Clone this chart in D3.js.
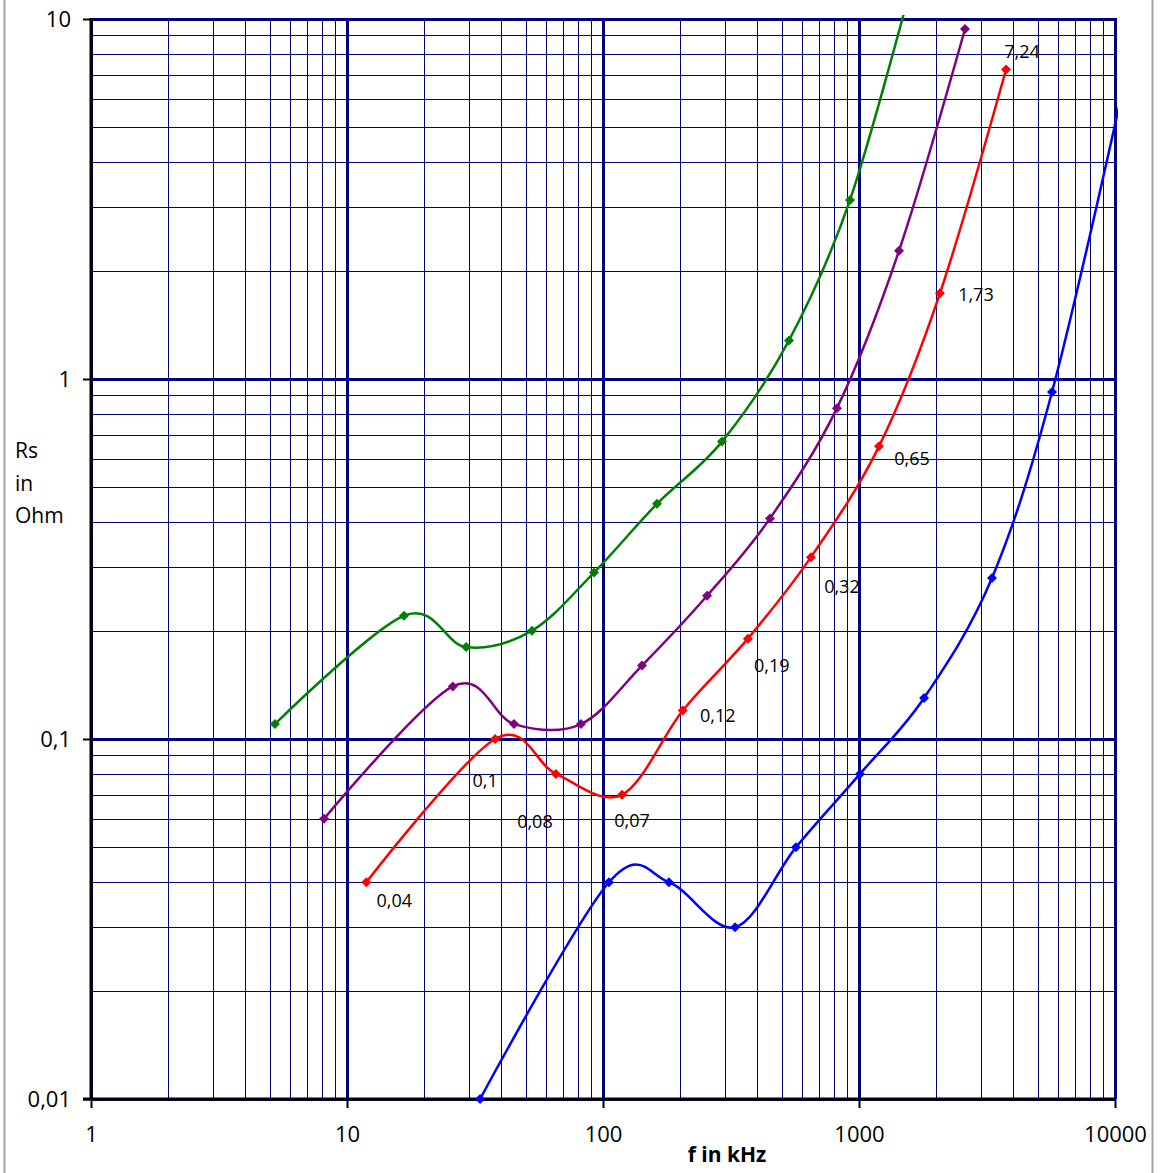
<!DOCTYPE html>
<html>
<head>
<meta charset="utf-8">
<script src="https://cdn.jsdelivr.net/npm/d3@7"></script>
<style>
  html, body { margin: 0; padding: 0; background: #fff; }
  svg { display: block; }
  text { font-family: "Open Sans", "Liberation Sans", sans-serif; fill: #000; }
</style>
</head>
<body>
<svg id="chart" width="1161" height="1173"></svg>
<script>
// ---- data ----
const xTickValues = [1, 10, 100, 1000, 10000];
const xTickLabels = ["1", "10", "100", "1000", "10000"];
const yTickValues = [0.01, 0.1, 1, 10];
const yTickLabels = ["0,01", "0,1", "1", "10"];

const greenF = [5.23, 16.7, 29.2, 52.8, 92.2, 162.5, 291.6, 532.8, 922, 1610];
const greenR = [0.11, 0.22, 0.18, 0.20, 0.29, 0.45, 0.67, 1.28, 3.14, 12.6];

const purpleF = [8.13, 25.9, 44.9, 82, 142, 255, 449, 820, 1433, 2595];
const purpleR = [0.06, 0.14, 0.11, 0.11, 0.16, 0.25, 0.41, 0.83, 2.27, 9.38];

const redF = [11.9, 37.9, 65.5, 118.7, 205, 368, 649, 1197, 2071, 3753];
const redR = [0.04, 0.10, 0.08, 0.07, 0.12, 0.19, 0.32, 0.65, 1.73, 7.24];
const redLabels = ["0,04", "0,1", "0,08", "0,07", "0,12", "0,19", "0,32", "0,65", "1,73", "7,24"];

const blueF = [33.1, 105.5, 181, 328, 567, 1009, 1795, 3307, 5675, 11000];
const blueR = [0.01, 0.04, 0.04, 0.03, 0.05, 0.08, 0.13, 0.28, 0.92, 6.9];

const xTitle = "f in kHz";
const yTitleLines = ["Rs", "in", "Ohm"];

// ---- layout ----
const L = 91, R = 1115, T = 19, B = 1099;
const navy = "#000080";
const svg = d3.select("#chart");

const x = d3.scaleLog().domain([1, 10000]).range([L, R]);
const y = d3.scaleLog().domain([0.01, 10]).range([B, T]);

// outer chart border (gray)
svg.append("line").attr("x1", 4.5).attr("x2", 4.5).attr("y1", 0).attr("y2", 1173)
  .attr("stroke", "#a6a6a6").attr("stroke-width", 2);
svg.append("line").attr("x1", 1152.5).attr("x2", 1152.5).attr("y1", 0).attr("y2", 1173)
  .attr("stroke", "#a6a6a6").attr("stroke-width", 2);

// minor gridlines
const minorX = [], minorY = [];
for (let d = 1; d < 10000; d *= 10) for (let k = 2; k <= 9; k++) minorX.push(d * k);
for (let d = 0.01; d < 9; d *= 10) for (let k = 2; k <= 9; k++) minorY.push(d * k);

const grid = svg.append("g").attr("shape-rendering", "crispEdges");
grid.selectAll("line.mx").data(minorX).join("line")
  .attr("x1", d => Math.round(x(d)) + 0.5).attr("x2", d => Math.round(x(d)) + 0.5)
  .attr("y1", T).attr("y2", B).attr("stroke", navy).attr("stroke-width", 1);
grid.selectAll("line.my").data(minorY).join("line")
  .attr("y1", d => Math.round(y(d)) + 0.5).attr("y2", d => Math.round(y(d)) + 0.5)
  .attr("x1", L).attr("x2", R).attr("stroke", navy).attr("stroke-width", 1);

// major gridlines
grid.selectAll("line.Mx").data(xTickValues).join("line")
  .attr("x1", d => x(d)).attr("x2", d => x(d))
  .attr("y1", T - 1).attr("y2", B).attr("stroke", navy).attr("stroke-width", 3);
grid.selectAll("line.My").data(yTickValues).join("line")
  .attr("y1", d => y(d)).attr("y2", d => y(d))
  .attr("x1", L).attr("x2", R + 1).attr("stroke", navy).attr("stroke-width", 3);

// axes (black)
const yAxis = d3.axisLeft(y).tickValues(yTickValues).tickFormat((d, i) => yTickLabels[i])
  .tickSize(8).tickPadding(12);
const gy = svg.append("g").attr("transform", `translate(${L},0)`).call(yAxis);
gy.select(".domain").attr("stroke", "#000").attr("stroke-width", 3).attr("d", `M0,${T - 1}V${B + 1}`);
gy.selectAll(".tick line").attr("stroke", "#000").attr("stroke-width", 2);
gy.selectAll(".tick text").attr("font-size", 22).attr("font-family", "'Open Sans', sans-serif").attr("fill", "#000");

const xAxis = d3.axisBottom(x).tickValues(xTickValues).tickFormat((d, i) => xTickLabels[i])
  .tickSize(9).tickPadding(18);
const gx = svg.append("g").attr("transform", `translate(0,${B})`).call(xAxis);
gx.select(".domain").attr("stroke", "#000").attr("stroke-width", 3).attr("d", `M${L - 8},0H${R + 1}`);
gx.selectAll(".tick line").attr("stroke", "#000").attr("stroke-width", 2);
gx.selectAll(".tick text").attr("font-size", 22).attr("font-family", "'Open Sans', sans-serif").attr("fill", "#000");

// titles
svg.append("text").attr("x", 727).attr("y", 1162).attr("text-anchor", "middle")
  .attr("font-size", 21).attr("font-weight", "bold").text(xTitle);
svg.selectAll("text.yt").data(yTitleLines).join("text")
  .attr("x", 15).attr("y", (d, i) => 458 + i * 32.5)
  .attr("font-size", 21).text(d => d);

// clipping
svg.append("clipPath").attr("id", "plotclip").append("rect")
  .attr("x", L - 3).attr("y", T - 4).attr("width", R - L + 6).attr("height", B - T + 10);

const series = [
  { f: greenF, r: greenR, color: "#008000" },
  { f: purpleF, r: purpleR, color: "#800080" },
  { f: redF, r: redR, color: "#ff0000" },
  { f: blueF, r: blueR, color: "#0000ff" }
];

const line = d3.line().x(d => x(d[0])).y(d => y(d[1])).curve(d3.curveCardinal.tension(0));
const marker = d3.symbol().type(d3.symbolSquare).size(50);

const plot = svg.append("g").attr("clip-path", "url(#plotclip)");
series.forEach(s => {
  const pts = s.f.map((f, i) => [f, s.r[i]]);
  plot.append("path").attr("d", line(pts)).attr("fill", "none")
    .attr("stroke", s.color).attr("stroke-width", 2.5);
  plot.selectAll(null).data(pts.filter(p => p[0] <= 10000 && p[1] <= 10)).join("path")
    .attr("d", marker)
    .attr("transform", d => `translate(${x(d[0])},${y(d[1])}) rotate(45)`)
    .attr("fill", s.color);
});

// data labels for red series (offsets from their points)
const labelOffsets = [[28, 18], [-10, 41], [-21, 47], [10, 25], [35, 5], [24, 26], [31, 29], [33, 12], [36, 1], [16, -18]];
svg.selectAll("text.rl").data(redLabels).join("text")
  .attr("x", (d, i) => x(redF[i]) + labelOffsets[i][0])
  .attr("y", (d, i) => y(redR[i]) + labelOffsets[i][1])
  .attr("text-anchor", "middle").attr("dominant-baseline", "central")
  .attr("font-size", 18).text(d => d);
</script>
</body>
</html>
